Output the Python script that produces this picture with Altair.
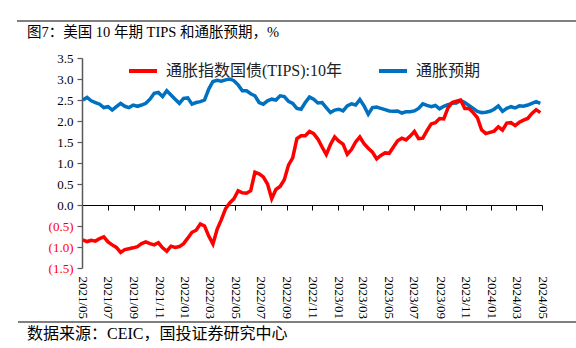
import altair as alt
import pandas as pd

# ---- data (~10-day sampling) ----
dates = pd.date_range("2021-05-03", periods=110, freq="10D")

tips_10y = [
    -0.83, -0.87, -0.84, -0.86, -0.80, -0.76, -0.88, -0.95, -1.01, -1.13,
    -1.06, -1.04, -1.02, -0.99, -0.92, -0.88, -0.92, -0.95, -0.90, -1.02,
    -1.10, -0.98, -1.01, -0.99, -0.92, -0.79, -0.65, -0.60, -0.45, -0.50,
    -0.74, -0.93, -0.58, -0.35, -0.09, 0.05, 0.15, 0.34, 0.29, 0.28,
    0.34, 0.78, 0.74, 0.67, 0.50, 0.15, 0.37, 0.44, 0.60, 0.95,
    1.12, 1.58, 1.65, 1.65, 1.75, 1.70, 1.57, 1.38, 1.20, 1.44,
    1.62, 1.52, 1.45, 1.21, 1.32, 1.50, 1.62, 1.46, 1.35, 1.26,
    1.10, 1.18, 1.24, 1.23, 1.38, 1.53, 1.59, 1.55, 1.64, 1.75,
    1.58, 1.59, 1.77, 1.93, 1.96, 2.06, 2.05, 2.31, 2.44, 2.47,
    2.50, 2.30, 2.30, 2.20, 2.08, 1.79, 1.70, 1.73, 1.76, 1.86,
    1.78, 1.95, 1.96, 1.89, 1.97, 2.02, 2.06, 2.18, 2.27, 2.20,
]

breakeven = [
    2.50, 2.56, 2.48, 2.44, 2.40, 2.32, 2.34, 2.26, 2.34, 2.42,
    2.35, 2.32, 2.38, 2.35, 2.38, 2.42, 2.52, 2.66, 2.68, 2.58,
    2.72, 2.62, 2.52, 2.42, 2.54, 2.55, 2.40, 2.44, 2.46, 2.50,
    2.76, 2.94, 2.97, 2.95, 2.98, 3.00, 2.96, 2.86, 2.72, 2.72,
    2.65, 2.60, 2.44, 2.40, 2.48, 2.52, 2.50, 2.60, 2.58, 2.47,
    2.42, 2.30, 2.28, 2.44, 2.57, 2.52, 2.43, 2.44, 2.32, 2.20,
    2.26, 2.28, 2.24, 2.36, 2.41, 2.38, 2.51, 2.36, 2.16, 2.32,
    2.33, 2.30, 2.27, 2.24, 2.23, 2.24, 2.19, 2.22, 2.22, 2.24,
    2.30, 2.41, 2.37, 2.34, 2.37, 2.29, 2.35, 2.39, 2.42, 2.43,
    2.49, 2.44, 2.37, 2.30, 2.23, 2.20, 2.21, 2.23, 2.28, 2.36,
    2.23, 2.30, 2.34, 2.31, 2.36, 2.35, 2.38, 2.42, 2.46, 2.42,
]

series_names = ["通胀指数国债(TIPS):10年", "通胀预期"]
series_colors = ["#FF0000", "#0070C0"]

tick_months = [
    "2021/05", "2021/07", "2021/09", "2021/11", "2022/01", "2022/03",
    "2022/05", "2022/07", "2022/09", "2022/11", "2023/01", "2023/03",
    "2023/05", "2023/07", "2023/09", "2023/11", "2024/01", "2024/03",
    "2024/05",
]
y_ticks = [-1.5, -1.0, -0.5, 0.0, 0.5, 1.0, 1.5, 2.0, 2.5, 3.0, 3.5]

title_text = "图7：美国 10 年期 TIPS 和通胀预期，%"
source_text = "数据来源：CEIC，国投证券研究中心"

# ---- build tables ----
df_tips = pd.DataFrame({"date": dates, "value": tips_10y, "series": series_names[0]})
df_bei = pd.DataFrame({"date": dates, "value": breakeven, "series": series_names[1]})

tick_vals = [alt.DateTime(year=int(m[:4]), month=int(m[5:]), date=1) for m in tick_months]

FONT = "Liberation Serif, Times New Roman, Noto Sans CJK SC"
W, H = 460, 210
zero_offset = -H * 1.5 / 5.0

x_scale = alt.Scale(domain=[alt.DateTime(year=2021, month=5, date=1),
                            alt.DateTime(year=2024, month=5, date=1)])
y_enc = alt.Y(
    "value:Q",
    scale=alt.Scale(domain=[-1.5, 3.5], nice=False, zero=False),
    axis=alt.Axis(
        values=y_ticks, title=None, grid=False,
        domainColor="#595959", domainWidth=1.5,
        tickColor="#595959", tickSize=5, tickWidth=1.2,
        labelFont=FONT, labelFontSize=13, labelPadding=4,
        labelExpr="datum.value < 0 ? '(' + format(-datum.value, '.1f') + ')' : format(datum.value, '.1f')",
        labelColor=alt.expr("datum.value < 0 ? '#FF0000' : '#000000'"),
    ),
)
color_enc = alt.Color(
    "series:N",
    scale=alt.Scale(domain=series_names, range=series_colors),
    legend=alt.Legend(
        title=None, orient="none", legendX=45, legendY=-3, direction="horizontal",
        symbolType="stroke", symbolSize=784, symbolStrokeWidth=4,
        labelFont=FONT, labelFontSize=16, labelColor="#222222",
        labelOffset=7, columnPadding=28, labelLimit=400, padding=0,
    ),
)

label_layer = alt.Chart(df_bei).mark_line(opacity=0).encode(
    x=alt.X("date:T", scale=x_scale, axis=alt.Axis(
        orient="bottom", values=tick_vals, format="%Y/%m", labelAngle=90,
        domain=False, ticks=False, grid=False, title=None,
        labelFont=FONT, labelFontSize=13, labelColor="#000000", labelPadding=8,
    )),
    y=y_enc,
)

bei_layer = alt.Chart(df_bei).mark_line(strokeWidth=3.5).encode(
    x=alt.X("date:T", scale=x_scale, axis=None),
    y=y_enc,
    color=color_enc,
)

tips_layer = alt.Chart(df_tips).mark_line(strokeWidth=3.5).encode(
    x=alt.X("date:T", scale=x_scale, axis=alt.Axis(
        orient="bottom", values=tick_vals, offset=zero_offset, labels=False,
        domain=True, domainColor="#000000", domainWidth=1,
        ticks=True, tickSize=5, tickColor="#000000", grid=False, title=None,
    )),
    y=y_enc,
    color=color_enc,
)

title_layer = alt.Chart(pd.DataFrame({"t": [title_text]})).mark_text(
    align="left", baseline="middle", font=FONT, fontSize=14.5, color="#000000"
).encode(x=alt.value(-55), y=alt.value(-25), text="t:N")

source_layer = alt.Chart(pd.DataFrame({"t": [source_text]})).mark_text(
    align="left", baseline="middle", font=FONT, fontSize=16, color="#000000"
).encode(x=alt.value(-55), y=alt.value(276), text="t:N")

top_rule = alt.Chart(pd.DataFrame({"a": [0]})).mark_rule(color="#000000", strokeWidth=1.2).encode(
    x=alt.value(-65), x2=alt.value(494), y=alt.value(-37))
bottom_rule = alt.Chart(pd.DataFrame({"a": [0]})).mark_rule(color="#000000", strokeWidth=1.2).encode(
    x=alt.value(-64), x2=alt.value(494), y=alt.value(264))

chart = alt.layer(
    label_layer, bei_layer, tips_layer, title_layer, source_layer, top_rule, bottom_rule
).resolve_axis(x="independent").properties(
    width=W, height=H,
    padding={"left": 82, "top": 58, "right": 34, "bottom": 80},
    autosize=alt.AutoSizeParams(type="none"),
    background="#FFFFFF",
).configure_view(stroke=None)

chart.save("out.html", embed_options={"renderer": "svg", "actions": False})
